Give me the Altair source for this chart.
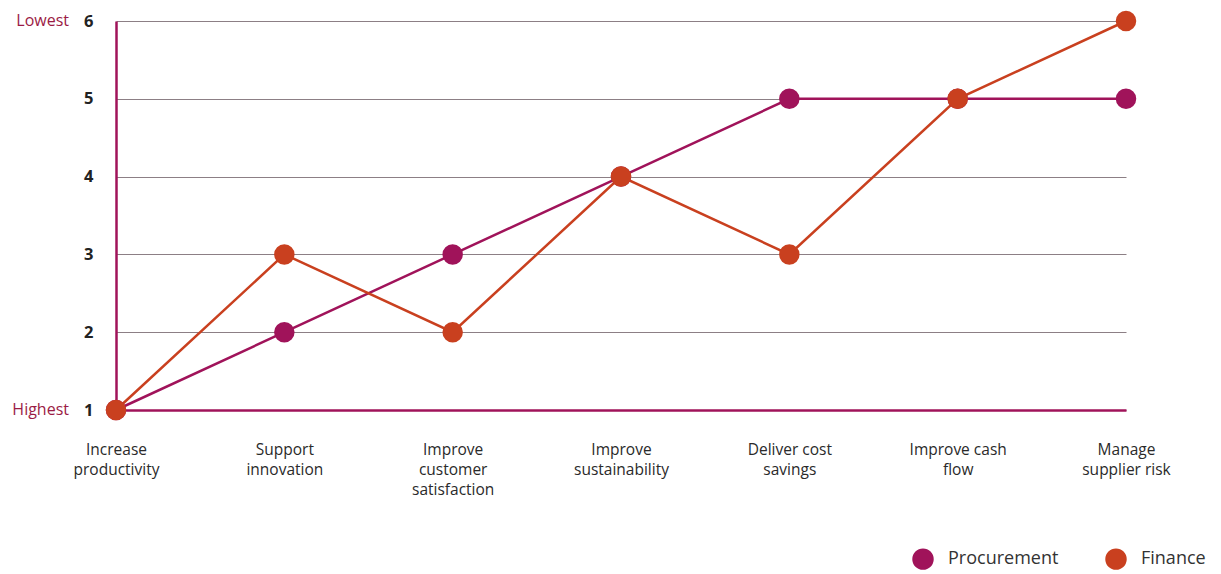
import altair as alt
import pandas as pd

categories = ["Increase productivity", "Support innovation", "Improve customer satisfaction",
              "Improve sustainability", "Deliver cost savings", "Improve cash flow",
              "Manage supplier risk"]
labels = ["Increase|productivity", "Support|innovation", "Improve|customer|satisfaction",
          "Improve|sustainability", "Deliver cost|savings", "Improve cash|flow",
          "Manage|supplier risk"]
procurement = [1, 2, 3, 4, 5, 5, 5]
finance = [1, 3, 2, 4, 3, 5, 6]
series = ["Procurement", "Finance"]
colors = ["#a0135a", "#c9401f"]

rows = []
for i, (s, vals) in enumerate(zip(series, [procurement, finance])):
    for lab, v in zip(labels, vals):
        rows.append({"Category": lab, "Rank": v, "Series": s, "z": i})
df = pd.DataFrame(rows)

FONT = "Open Sans"

x = alt.X("Category:N", sort=labels, title=None,
          scale=alt.Scale(type="point", padding=0),
          axis=alt.Axis(labelExpr="split(datum.label, '|')", labelAngle=0,
                        labelAlign="center", labelBaseline="top", labelPadding=32,
                        labelFontSize=15.5, labelLineHeight=20, labelColor="#2a2a2a",
                        labelFont=FONT, labelFontWeight=500, ticks=False, grid=False,
                        domain=True, domainColor="#a0135a", domainWidth=2.5))
y = alt.Y("Rank:Q", title=None, scale=alt.Scale(domain=[1, 6], nice=False),
          axis=alt.Axis(values=[1, 2, 3, 4, 5, 6], format="d", ticks=False, labelPadding=23,
                        labelFontSize=16.5, labelFontWeight="bold", labelColor="#222222",
                        labelFont=FONT, grid=True, gridColor="#8c7f85", gridWidth=1,
                        domain=True, domainColor="#a0135a", domainWidth=2.5))
color_scale = alt.Scale(domain=series, range=colors)

base = alt.Chart(df)
lines = base.mark_line(strokeWidth=2.5).encode(
    x=x, y=y,
    color=alt.Color("Series:N", scale=color_scale, legend=None),
    detail="Series:N")
points = base.mark_point(filled=True, opacity=1, size=420).encode(
    x=x, y=y,
    color=alt.Color("Series:N", scale=color_scale,
                    legend=alt.Legend(title=None, orient="none", legendX=796, legendY=527,
                                      direction="horizontal", symbolType="circle",
                                      symbolSize=460, symbolStrokeWidth=0, symbolOpacity=1,
                                      labelFontSize=18, labelColor="#333333", labelFont=FONT,
                                      labelOffset=14, columnPadding=46)),
    order=alt.Order("z:Q", sort="ascending"))

ann = pd.DataFrame({"Rank": [6, 1], "text": ["Lowest", "Highest"]})
annot = alt.Chart(ann).mark_text(align="right", baseline="middle", fontSize=16,
                                 color="#9b1b45", font=FONT).encode(
    x=alt.value(-47), y=alt.Y("Rank:Q", scale=alt.Scale(domain=[1, 6], nice=False)),
    text="text:N")

chart = alt.layer(lines, points, annot).resolve_legend(color="independent").properties(
    width=1010, height=389,
    autosize=alt.AutoSizeParams(type="none"),
    padding={"left": 108, "top": 13, "right": 87, "bottom": 170},
).configure_view(stroke=None)

chart.save("out.html", embed_options={"renderer": "svg", "actions": False})
